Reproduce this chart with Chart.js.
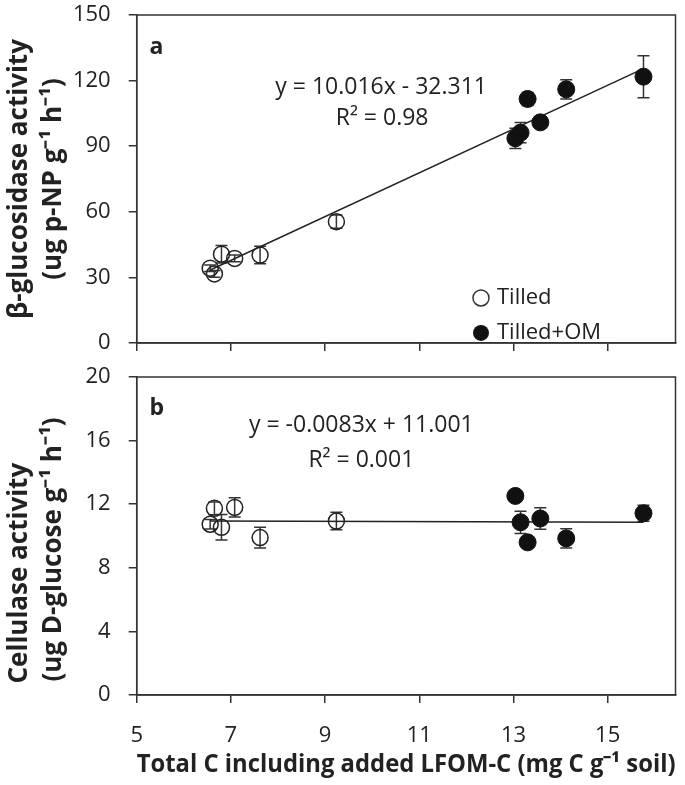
<!DOCTYPE html>
<html>
<head>
<meta charset="utf-8">
<script src="https://cdn.jsdelivr.net/npm/chart.js@4.4.0/dist/chart.umd.min.js"></script>
<style>
  body { margin: 0; background: #fff; }
  canvas { display: block; }
</style>
</head>
<body>
<canvas id="chartA" width="685" height="360"></canvas>
<canvas id="chartB" width="685" height="425"></canvas>
<script>
// total C (x) for each treatment
var xTicks = [5, 7, 9, 11, 13, 15];
var tilledC = [6.56, 6.65, 6.80, 7.08, 7.62, 9.24];
var tilledOmC = [13.04, 13.15, 13.30, 13.57, 14.12, 15.76];

// panel a : beta-glucosidase
var glucTicks = [0, 30, 60, 90, 120, 150];
var glucTilled = [34.2, 31.6, 40.6, 38.7, 40.2, 55.5];
var glucTilledErr = [1.5, 1.5, 4.0, 1.5, 4.0, 3.0];
var glucTilledOm = [93.6, 96.2, 111.6, 100.9, 116.0, 121.8];
var glucTilledOmErr = [4.6, 4.6, 3.0, 1.0, 4.4, 9.6];
var glucTrendX = [6.56, 15.76];
var glucTrendY = [33.4, 125.5];

// panel b : cellulase
var cellTicks = [0, 4, 8, 12, 16, 20];
var cellTilled = [10.74, 11.74, 10.55, 11.80, 9.90, 10.94];
var cellTilledErr = [0.3, 0.4, 0.8, 0.6, 0.65, 0.55];
var cellTilledOm = [12.52, 10.86, 9.60, 11.10, 9.85, 11.43];
var cellTilledOmErr = [0.3, 0.7, 0.3, 0.67, 0.6, 0.5];
var cellTrendX = [6.56, 15.76];
var cellTrendY = [10.95, 10.87];

var axisColor = '#333';
var textColor = '#222';
Chart.defaults.font.family = "'Open Sans', sans-serif";
Chart.defaults.color = textColor;

function pts(xs, ys) {
    return xs.map(function(x, i) { return {x: x, y: ys[i]}; });
}

// error bars, drawn under the markers
var errorBars = {
    id: 'errorBars',
    beforeDatasetsDraw: function(chart) {
        var ctx = chart.ctx;
        var ys = chart.scales.y, xs = chart.scales.x;
        ctx.save();
        ctx.strokeStyle = axisColor;
        ctx.lineWidth = 1.5;
        chart.data.datasets.forEach(function(ds) {
            if (!ds.err) return;
            ds.data.forEach(function(p, i) {
                var px = xs.getPixelForValue(p.x);
                var top = ys.getPixelForValue(p.y + ds.err[i]);
                var bot = ys.getPixelForValue(p.y - ds.err[i]);
                ctx.beginPath();
                ctx.moveTo(px, top); ctx.lineTo(px, bot);
                ctx.moveTo(px - 6, top); ctx.lineTo(px + 6, top);
                ctx.moveTo(px - 6, bot); ctx.lineTo(px + 6, bot);
                ctx.stroke();
            });
        });
        ctx.restore();
    }
};

// frame + text labels
var extras = {
    id: 'extras',
    afterDraw: function(chart, args, opts) {
        var ctx = chart.ctx, a = chart.chartArea;
        var xs = chart.scales.x, ys = chart.scales.y;
        ctx.save();
        ctx.strokeStyle = axisColor;
        ctx.lineWidth = 1.5;
        ctx.strokeRect(a.left, a.top, a.right - a.left, a.bottom - a.top);
        ctx.fillStyle = textColor;
        ctx.textBaseline = 'middle';
        ctx.font = "bold 23px 'Open Sans', sans-serif";
        ctx.textAlign = 'left';
        ctx.fillText(opts.panel, xs.getPixelForValue(5.27), ys.getPixelForValue(opts.panelY));
        ctx.font = "23px 'Open Sans', sans-serif";
        ctx.textAlign = 'center';
        opts.lines.forEach(function(l) {
            ctx.fillText(l[0], xs.getPixelForValue(l[1]), ys.getPixelForValue(l[2]));
        });
        if (opts.legend) {
            ctx.font = "22px 'Open Sans', sans-serif";
            ctx.textAlign = 'left';
            opts.legend.forEach(function(l) {
                var px = xs.getPixelForValue(l[1]), py = ys.getPixelForValue(l[2]);
                ctx.beginPath();
                ctx.arc(px, py, 8, 0, Math.PI * 2);
                if (l[3]) { ctx.fillStyle = '#111'; ctx.fill(); }
                else { ctx.lineWidth = 1.5; ctx.stroke(); }
                ctx.fillStyle = textColor;
                ctx.fillText(l[0], px + 16, py);
            });
        }
        ctx.restore();
    }
};

function makeOptions(yMin, yMax, yTicks, yTitle, showX, extraOpts) {
    return {
        responsive: false,
        animation: false,
        layout: { padding: { top: showX ? 17 : 15, right: 4, left: 0, bottom: 0 } },
        plugins: { legend: { display: false }, tooltip: { enabled: false }, extras: extraOpts },
        scales: {
            x: {
                type: 'linear', min: 5, max: 16.44,
                afterBuildTicks: function(s) { s.ticks = xTicks.map(function(v) { return {value: v}; }); },
                ticks: { display: showX, padding: 20, font: { size: 22 }, color: textColor },
                grid: { drawOnChartArea: false, tickLength: 8, color: axisColor, lineWidth: 1.5 },
                border: { color: axisColor, width: 1.5 },
                title: {
                    display: showX,
                    text: 'Total C including added LFOM-C (mg C g\u207B\u00B9 soil)',
                    font: { size: 25, weight: 'bold' },
                    padding: { top: 0, bottom: 5 },
                    color: textColor
                },
                afterFit: function(s) {
                    s.height = showX ? 90 : 17;
                    s.paddingLeft = 0; s.paddingRight = 0;
                }
            },
            y: {
                min: yMin, max: yMax,
                afterBuildTicks: function(s) { s.ticks = yTicks.map(function(v) { return {value: v}; }); },
                ticks: { padding: 18, font: { size: 22 }, color: textColor },
                grid: { drawOnChartArea: false, tickLength: 8, color: axisColor, lineWidth: 1.5 },
                border: { color: axisColor, width: 1.5 },
                title: {
                    display: true, text: yTitle,
                    font: { size: 26, weight: 'bold', lineHeight: 1.3 },
                    padding: { top: 3, bottom: 0 },
                    color: textColor
                },
                afterFit: function(s) {
                    s.width = 136.7;
                    s.paddingTop = 0; s.paddingBottom = 0;
                }
            }
        }
    };
}

function makeDatasets(yT, eT, yO, eO, trX, trY) {
    return [
        { label: 'Tilled', data: pts(tilledC, yT), err: eT, pointRadius: 8, pointBorderWidth: 1.5,
          pointBackgroundColor: 'rgba(0,0,0,0)', pointBorderColor: '#222', showLine: false },
        { label: 'Tilled+OM', data: pts(tilledOmC, yO), err: eO, pointRadius: 8.5, pointBorderWidth: 1,
          pointBackgroundColor: '#111', pointBorderColor: '#111', showLine: false },
        { type: 'line', label: 'trend', data: pts(trX, trY), pointRadius: 0, borderColor: '#222',
          borderWidth: 1.5, fill: false }
    ];
}

new Chart(document.getElementById('chartA').getContext('2d'), {
    type: 'scatter',
    data: { datasets: makeDatasets(glucTilled, glucTilledErr, glucTilledOm, glucTilledOmErr, glucTrendX, glucTrendY) },
    options: makeOptions(0, 150, glucTicks, ['\u03B2-glucosidase activity', '(ug p-NP g\u207B\u00B9 h\u207B\u00B9)'], false, {
        panel: 'a', panelY: 135,
        lines: [['y = 10.016x - 32.311', 10.19, 117], ['R\u00B2 = 0.98', 10.21, 102.9]],
        legend: [['Tilled', 12.31, 20.6, false], ['Tilled+OM', 12.31, 4.6, true]]
    }),
    plugins: [errorBars, extras]
});

// trailing spaces nudge the panel b title lines downward, as in the original
new Chart(document.getElementById('chartB').getContext('2d'), {
    type: 'scatter',
    data: { datasets: makeDatasets(cellTilled, cellTilledErr, cellTilledOm, cellTilledOmErr, cellTrendX, cellTrendY) },
    options: makeOptions(0, 20, cellTicks, ['Cellulase activity' + '\u00A0'.repeat(11), '(ug D-glucose g\u207B\u00B9 h\u207B\u00B9)' + '\u00A0'.repeat(4)], true, {
        panel: 'b', panelY: 18.05,
        lines: [['y = -0.0083x + 11.001', 9.77, 16.98], ['R\u00B2 = 0.001', 9.77, 14.78]]
    }),
    plugins: [errorBars, extras]
});
</script>
</body>
</html>
